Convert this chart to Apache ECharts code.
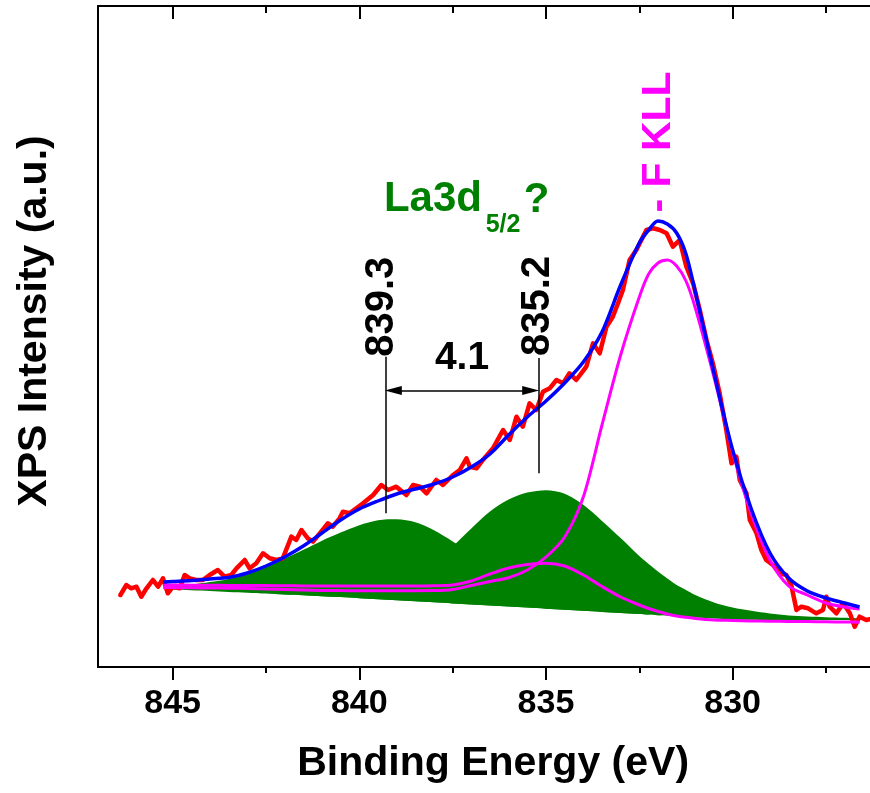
<!DOCTYPE html>
<html>
<head>
<meta charset="utf-8">
<script src="https://cdn.jsdelivr.net/npm/echarts@6/dist/echarts.min.js"></script>
<style>html,body{margin:0;padding:0;background:#fff}#c{width:870px;height:793px}</style>
</head>
<body>
<div id="c"></div>
<script>
// ---- measured raw XPS data (binding energy eV, intensity a.u.) ----
const dataEnergy = [846.40, 846.24, 846.11, 845.97, 845.84, 845.70, 845.53, 845.39, 845.26, 845.13,
  844.99, 844.81, 844.68, 844.54, 844.37, 844.19, 844.01, 843.79, 843.61, 843.43,
  843.29, 843.07, 842.94, 842.76, 842.58, 842.40, 842.22, 842.05, 841.82, 841.69,
  841.55, 841.38, 841.24, 841.06, 840.84, 840.71, 840.53, 840.44, 840.26, 839.90,
  839.63, 839.41, 839.23, 839.01, 838.74, 838.56, 838.38, 838.20, 837.94, 837.76,
  837.49, 837.31, 837.13, 837.04, 836.86, 836.69, 836.42, 836.15, 835.97, 835.79,
  835.62, 835.44, 835.26, 835.08, 834.90, 834.72, 834.54, 834.37, 834.19, 833.92,
  833.74, 833.56, 833.38, 833.21, 833.07, 832.94, 832.76, 832.58, 832.31, 832.13,
  831.95, 831.77, 831.60, 831.42, 831.24, 831.06, 830.88, 830.70, 830.53, 830.35,
  830.17, 830.03, 829.90, 829.81, 829.63, 829.54, 829.36, 829.23, 829.10, 828.92,
  828.74, 828.56, 828.43, 828.29, 828.16, 827.98, 827.76, 827.58, 827.49, 827.40,
  827.22, 827.04, 826.86, 826.73, 826.60, 826.42, 826.33];
const dataIntensity = [72, 82, 78.7, 80.3, 70.3, 78.7, 87, 80.3, 88.7, 73.7,
  80.3, 78.7, 92, 88.7, 87, 87, 92, 97, 90.3, 92,
  98.7, 107, 98.7, 103.7, 113.7, 108.7, 107, 108.7, 130.3, 127,
  137, 128.7, 125.3, 133.7, 143.7, 140.3, 148.7, 155.3, 153.7, 163.7,
  172, 182, 177, 180.3, 172, 182, 180.3, 173.7, 187, 182,
  192, 197, 208.7, 200.3, 198.7, 207, 218.7, 237, 227, 250.3,
  240.3, 263.7, 257, 275.3, 278.7, 287, 283.7, 293.7, 287, 300.3,
  323.7, 313.7, 340.3, 350.3, 363.7, 377, 407, 417, 437, 438.7,
  437, 433.7, 420.3, 427, 400.3, 383.7, 357, 327, 303.7, 274,
  237, 203.7, 210.3, 187, 173.7, 147, 133.7, 117, 107, 102,
  93.7, 92, 82, 57, 60.3, 58.7, 53.7, 57, 70.3, 60.3,
  53.7, 63.7, 53.7, 40.3, 50.3, 47, 47.7];

// ---- fit curves on a common energy grid ----
const fitEnergy = [845.25, 845, 844.5, 844, 843.5, 843, 842.5, 842, 841.5, 841,
  840.5, 840, 839.5, 839, 838.5, 838, 837.5, 837, 836.5, 836,
  835.5, 835, 834.5, 834, 833.5, 833, 832.5, 832.25, 832, 831.75,
  831.5, 831.25, 831, 830.5, 830, 829.5, 829, 828.5, 828, 827.5,
  827, 826.6];
const background = [78, 77.5, 76.7, 75.9, 75, 74.2, 73.4, 72.5, 71.7, 70.8,
  69.9, 68.8, 67.8, 66.7, 65.7, 64.7, 63.6, 62.6, 61.5, 60.5,
  59.4, 58.3, 57.3, 56.2, 55.1, 54, 52.9, 52.4, 51.8, 51.3,
  50.7, 50.2, 49.6, 48.5, 47.6, 47.2, 47, 47, 47, 47,
  47, 47];
// La3d5/2 components (height above background)
const la3dPeak1 = [1, 2, 5.5, 9, 13, 19, 27, 36, 45.5, 55.5,
  64.5, 73, 79, 81, 79, 72, 62, 51, 40, 29,
  20, 13, 8, 5, 3, 2, 1, 0.7, 0.5, 0,
  0, 0, 0, 0, 0, 0, 0, 0, 0, 0,
  0, 0];
const la3dPeak2 = [0, 0, 0, 0, 0, 0, 0, 0.5, 1, 2,
  3.5, 6, 10, 16, 25, 38, 57, 76, 94, 107,
  115, 118.5, 116, 106, 91, 75, 58, 50.6, 43.7, 37.2,
  31.3, 26.8, 22.4, 16, 11.9, 9, 6.5, 4.5, 3.5, 2.8,
  2.2, 1.7];
// magenta components
const fkllCurve = [79.5, 79.4, 79.2, 79, 78.8, 78.5, 78.1, 77.6, 77.1, 76.6,
  76.4, 76.3, 76.3, 76.3, 76.3, 76.4, 77.5, 81.5, 85.5, 89.3,
  97, 110, 130, 170, 242, 312, 370, 393, 404, 407,
  401, 386, 359, 290, 215, 153, 107, 81, 72, 64,
  60, 58];
const minorCurve = [82, 82, 81.8, 81.7, 81.6, 81.5, 81.4, 81.2, 81.1, 81,
  81, 81, 81, 81, 81, 81.2, 82, 86, 93, 99,
  102.5, 103.7, 101, 92, 80.5, 70, 62, 58.5, 55.5, 53,
  51, 49.7, 48.5, 47, 46.5, 46, 45.8, 45.6, 45.4, 45.2,
  45, 44.7];
// fit envelope
const envelope = [85, 85.5, 86.5, 88, 89.5, 94, 101, 110, 121, 134,
  147, 158, 166, 173, 178, 183, 190, 200, 213, 232,
  250, 266, 284, 305, 335, 382, 424, 437, 446, 443,
  434, 413, 375, 294, 217, 158, 114, 89, 76, 69,
  64, 60];

// ---- axis ticks & annotations ----
const majorTicks = [845, 840, 835, 830];
const minorTicks = [842.5, 837.5, 832.5, 827.5];
const peakPositions = [839.3, 835.2];
const splitting = 4.1;

const FONT = '"Liberation Sans", Arial, Helvetica, sans-serif';
const chart = echarts.init(document.getElementById('c'), null, {renderer: 'canvas', width: 870, height: 793});
const pts = (xs, ys) => xs.map((x, i) => [x, ys[i]]);
// value first so that stacking acts on the intensity dimension
const stackPts = (ys) => fitEnergy.map((x, i) => [ys[i], x]);
const xCommon = {type: 'value', min: 825, max: 847, inverse: true, splitLine: {show: false}};
const tickStyle = {color: '#000', width: 2};
const frameLine = {show: true, onZero: false, lineStyle: {color: '#000', width: 2}};

function base(stack) {
  return {type: 'line', stack: stack, data: stackPts(background), encode: {x: 1, y: 0}, symbol: 'none', smooth: 0.3,
    lineStyle: {width: 0, opacity: 0}, silent: true, z: 1};
}
function peakArea(name, stack, arr) {
  return {type: 'line', name: name, stack: stack, data: stackPts(arr), encode: {x: 1, y: 0}, symbol: 'none', smooth: 0.3,
    lineStyle: {width: 0, opacity: 0}, areaStyle: {color: '#008000', opacity: 1}, silent: true, z: 1};
}
function curve(name, arr, color, width, z) {
  return {type: 'line', name: name, data: pts(fitEnergy, arr), symbol: 'none', smooth: 0.3,
    lineStyle: {color: color, width: width}, silent: true, z: z};
}

const arrowY = 276.5;
const inset = 0.21;
const option = {
  animation: false,
  backgroundColor: '#fff',
  grid: {left: 98, top: 6, width: 821.3, height: 661, containLabel: false, outerBoundsMode: 'none'},
  xAxis: [
    Object.assign({}, xCommon, {position: 'bottom',
      name: 'Binding Energy (eV)', nameLocation: 'middle', nameGap: 76,
      nameTextStyle: {color: '#000', fontSize: 41, fontWeight: 'bold', fontFamily: FONT, padding: [0, 31, 0, 0]},
      axisLine: frameLine,
      axisTick: {show: true, inside: false, length: 13, customValues: majorTicks, lineStyle: tickStyle},
      axisLabel: {show: true, margin: 20, customValues: majorTicks, color: '#000', fontSize: 34, fontWeight: 'bold', fontFamily: FONT}}),
    Object.assign({}, xCommon, {position: 'bottom', axisLine: {show: false, onZero: false},
      axisTick: {show: true, inside: false, length: 6, customValues: minorTicks, lineStyle: tickStyle},
      axisLabel: {show: false}}),
    Object.assign({}, xCommon, {position: 'top', axisLine: frameLine,
      axisTick: {show: true, inside: true, length: 13, customValues: majorTicks, lineStyle: tickStyle},
      axisLabel: {show: false}}),
    Object.assign({}, xCommon, {position: 'top', axisLine: {show: false, onZero: false},
      axisTick: {show: true, inside: true, length: 7, customValues: minorTicks, lineStyle: tickStyle},
      axisLabel: {show: false}})
  ],
  yAxis: {type: 'value', min: 0, max: 661, position: 'left',
    name: 'XPS Intensity (a.u.)', nameLocation: 'middle', nameGap: 43, nameRotate: 90,
    nameTextStyle: {color: '#000', fontSize: 41, fontWeight: 'bold', fontFamily: FONT, padding: [0, 0, 0, 31]},
    axisLine: frameLine, axisTick: {show: false}, axisLabel: {show: false}, splitLine: {show: false}},
  series: [
    base('p1'),
    peakArea('La3d5/2 (839.3)', 'p1', la3dPeak1),
    base('p2'),
    peakArea('La3d5/2 (835.2)', 'p2', la3dPeak2),
    {type: 'line', name: 'Data', data: pts(dataEnergy, dataIntensity), symbol: 'none',
      lineStyle: {color: '#ff0000', width: 4.5, join: 'round', cap: 'round'}, silent: true, z: 2},
    curve('Component', minorCurve, '#ff00ff', 3, 3),
    curve('F KLL', fkllCurve, '#ff00ff', 3, 3),
    Object.assign(curve('Envelope', envelope, '#0000ff', 3.5, 4), {
      markLine: {silent: true, animation: false, symbol: ['none', 'none'], label: {show: false},
        lineStyle: {color: '#000', width: 1.5, type: 'solid'},
        emphasis: {disabled: true},
        data: [
          [{coord: [peakPositions[0], 153.7]}, {coord: [peakPositions[0], 310.3]}],
          [{coord: [peakPositions[1], 193.7]}, {coord: [peakPositions[1], 309]}],
          [{coord: [peakPositions[0] - inset, arrowY], symbol: 'triangle', symbolSize: [9, 17]},
           {coord: [peakPositions[1] + inset, arrowY], symbol: 'triangle', symbolSize: [9, 17]}]
        ]}
    })
  ]
};
chart.setOption(option);

const px = (e, v) => chart.convertToPixel({xAxisIndex: 0, yAxisIndex: 0}, [e, v]);
function txt(p, text, size, color, align, rot) {
  return {type: 'text', x: p[0], y: p[1], rotation: rot || 0, z: 100, silent: true,
    style: {text: text, fill: color, font: 'bold ' + size + 'px ' + FONT, align: align || 'center', verticalAlign: 'middle'}};
}
const a1 = px(peakPositions[0], 360.3);
const a2 = px(peakPositions[1], 361);
const mid = px((peakPositions[0] + peakPositions[1]) / 2, 309);
const la = px(peakPositions[0], 468);
const laSub = px(peakPositions[0], 442);
const fk = px(831.97, 525);
const laX = la[0] - 1.5;
chart.setOption({graphic: [
  txt([a1[0] - 3, a1[1]], peakPositions[0].toFixed(1), 40, '#000', 'center', Math.PI / 2),
  txt([a2[0] - 1, a2[1]], peakPositions[1].toFixed(1), 40, '#000', 'center', Math.PI / 2),
  txt(mid, splitting.toFixed(1), 39, '#000', 'center'),
  txt([laX, la[1]], 'La3d', 42, '#008000', 'left'),
  txt([laX + 101.7, laSub[1]], '5/2', 25, '#008000', 'left'),
  txt([laX + 139.7, la[1] + 1], '?', 42, '#008000', 'left'),
  txt(fk, '- F KLL', 41, '#ff00ff', 'center', Math.PI / 2)
]});
</script>
</body>
</html>
